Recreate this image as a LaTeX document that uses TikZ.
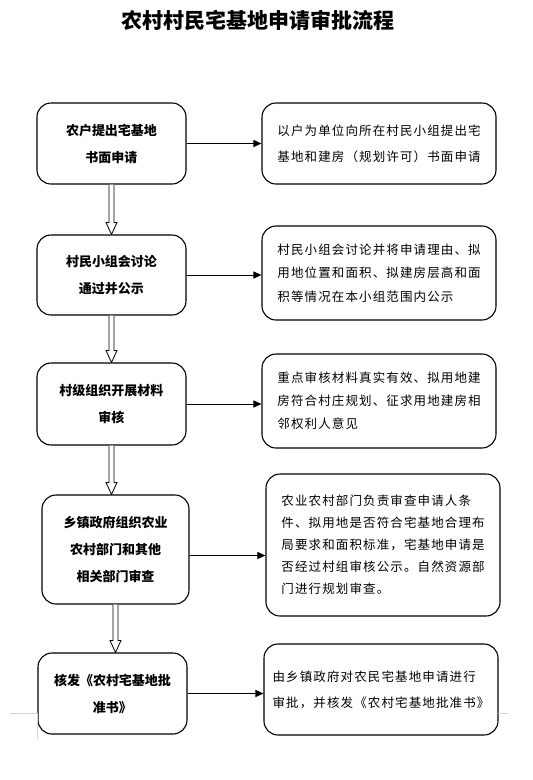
\documentclass[tikz,border=0pt]{standalone}
\usepackage{fontspec}
\newfontfamily\cjk{Noto Sans CJK SC}
\newfontfamily\cjkwide[LetterSpace=9]{Noto Sans CJK SC}
\usetikzlibrary{arrows.meta,calc}
\tikzset{
  stepbox/.style={draw, rounded corners=14pt, line width=1.1pt, minimum width=149pt,
    align=center, font=\cjk\bfseries\fontsize{13}{27}\selectfont},
  notebox/.style={draw, rounded corners=14pt, line width=1.1pt, minimum width=234pt, align=left},
  flow/.style={-{Triangle[length=8pt,width=7pt]}, line width=1pt},
  hollow/.style={draw, line width=0.8pt, fill=white}
}
\newcommand\hollowarrow[2]{%
  \draw[hollow] let \p1=(#1.south), \p2=(#2.north) in
    (\x1-2.5pt,\y1) -- (\x1-2.5pt,\y2+12pt) -- (\x1-5.5pt,\y2+12pt) -- (\x1,\y2)
    -- (\x1+5.5pt,\y2+12pt) -- (\x1+2.5pt,\y2+12pt) -- (\x1+2.5pt,\y1);}
\begin{document}
\begin{tikzpicture}[x=1pt,y=-1pt]
\useasboundingbox (0,0) rectangle (533,780);
\node (title) at (258,20) {\cjk\bfseries\fontsize{21}{24}\selectfont 农村村民宅基地申请审批流程};
% left column
\node[stepbox, minimum height=81pt] (apply) at (111.5,143.5) {农户提出宅基地\\书面申请};
\node[stepbox, minimum height=80pt] (discuss) at (111.5,275) {村民小组会讨论\\通过并公示};
\node[stepbox, minimum height=82pt] (check) at (111.5,404) {村级组织开展材料\\审核};
\node[stepbox, minimum width=147pt, minimum height=109pt] (review) at (115.5,549.5) {乡镇政府组织农业\\农村部门和其他\\相关部门审查};
\node[stepbox, minimum height=81pt] (issue) at (112.5,693.5) {核发《农村宅基地批\\准书》};
% right column
\node[notebox, minimum height=81pt, font=\cjkwide\fontsize{12.5}{26}\selectfont] (applynote) at (379,143.5)
  {以户为单位向所在村民小组提出宅\\基地和建房（规划许可）书面申请};
\node[notebox, minimum height=94pt, font=\cjkwide\fontsize{12.5}{23.5}\selectfont] (discussnote) at (379,273)
  {村民小组会讨论并将申请理由、拟\\用地位置和面积、拟建房层高和面\\积等情况在本小组范围内公示};
\node[notebox, minimum height=94pt, font=\cjkwide\fontsize{12.5}{23}\selectfont] (checknote) at (379,401)
  {重点审核材料真实有效、拟用地建\\房符合村庄规划、征求用地建房相\\邻权利人意见};
\node[notebox, minimum height=142pt, font=\cjkwide\fontsize{12.5}{22}\selectfont] (reviewnote) at (383,545)
  {农业农村部门负责审查申请人条\\件、拟用地是否符合宅基地合理布\\局要求和面积标准，宅基地申请是\\否经过村组审核公示。自然资源部\\门进行规划审查。};
\node[notebox, minimum height=91pt, font=\cjkwide\fontsize{12.5}{26}\selectfont] (issuenote) at (381,689.5)
  {由乡镇政府对农民宅基地申请进行\\审批，并核发《农村宅基地批准书》};
% arrows
\draw[flow] (apply.east) -- (apply.east -| applynote.west);
\draw[flow] (discuss.east) -- (discuss.east -| discussnote.west);
\draw[flow] (check.east) -- (check.east -| checknote.west);
\draw[flow] ([yshift=-6pt]review.east) -- ([yshift=-6pt]review.east -| reviewnote.west);
\draw[flow] (issue.east) -- (issue.east -| issuenote.west);
\hollowarrow{apply}{discuss}
\hollowarrow{discuss}{check}
\hollowarrow{check}{review}
\hollowarrow{review}{issue}
%page marks
\draw[gray!35, line width=0.6pt] (10,713) -- (37,713) -- (37,739);
\draw[gray!35, line width=0.6pt] (498,713) -- (508,713);
\end{tikzpicture}
\end{document}
